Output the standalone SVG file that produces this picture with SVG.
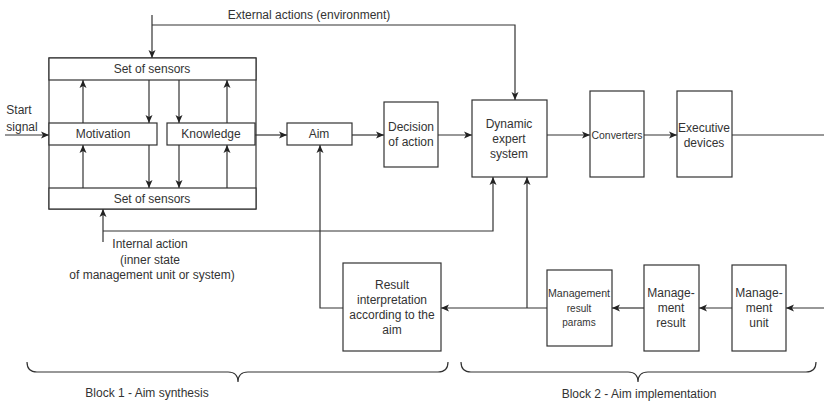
<svg xmlns="http://www.w3.org/2000/svg" width="824" height="403" viewBox="0 0 824 403">
  <style>
    .box { fill: #ffffff; stroke: #333333; stroke-width: 1.2; }
    .ln { fill: none; stroke: #333333; stroke-width: 1.2; }
    .arr { fill: none; stroke: #333333; stroke-width: 1.2; marker-end: url(#head); }
    text { font-family: "Liberation Sans", Arial, sans-serif; font-size: 12px; fill: #333333; text-anchor: middle; dominant-baseline: central; }
    .small { font-size: 10px; }
  </style>
  <defs>
    <marker id="head" markerUnits="userSpaceOnUse" markerWidth="10" markerHeight="10" refX="8" refY="4" orient="auto">
      <path d="M0,0.5 L8,4 L0,7.5 L2,4 Z" fill="#222222"/>
    </marker>
  </defs>

  <rect width="824" height="403" fill="#ffffff"/>

  <!-- connectors -->
  <g id="connectors">
    <!-- external actions -->
    <path class="arr" d="M152,15 V58"/>
    <path class="arr" d="M152,25 H515 V100"/>
    <!-- internal action -->
    <path class="arr" d="M103,242 V209"/>
    <path class="arr" d="M103,231 H493 V177"/>
    <!-- start signal -->
    <path class="arr" d="M5,135 H49"/>
    <!-- forward chain -->
    <path class="arr" d="M255,135 H287"/>
    <path class="arr" d="M352,135 H384"/>
    <path class="arr" d="M438,135 H472"/>
    <path class="arr" d="M547,135 H590"/>
    <path class="arr" d="M644,135 H677"/>
    <path class="ln" d="M732,135 H824"/>
    <!-- inside the sensors block -->
    <path class="arr" d="M83,123 V80"/>
    <path class="arr" d="M149,80 V123"/>
    <path class="arr" d="M179,80 V123"/>
    <path class="arr" d="M227,123 V80"/>
    <path class="arr" d="M83,188 V145"/>
    <path class="arr" d="M149,145 V188"/>
    <path class="arr" d="M179,145 V188"/>
    <path class="arr" d="M227,188 V145"/>
    <!-- feedback chain -->
    <path class="arr" d="M824,308 H786"/>
    <path class="arr" d="M732,308 H699"/>
    <path class="arr" d="M644,308 H612"/>
    <path class="arr" d="M547,308 H441"/>
    <path class="arr" d="M527,308 V177"/>
    <path class="arr" d="M343,308 H320 V145"/>
    <!-- braces -->
    <path class="ln" d="M27,362 Q27,372 37,372 H228 Q238,372 238,382 Q238,372 248,372 H438 Q448,372 448,362"/>
    <path class="ln" d="M461,362 Q461,372 471,372 H628 Q638,372 638,382 Q638,372 648,372 H806 Q816,372 816,362"/>
  </g>

  <!-- labels on connectors -->
  <text x="309" y="15">External actions (environment)</text>
  <text x="19" y="110">Start</text>
  <text x="22" y="127">signal</text>
  <text x="150" y="244">Internal action</text>
  <text x="150" y="260">(inner state</text>
  <text x="152" y="275">of management unit or system)</text>
  <text x="147" y="393">Block 1 - Aim synthesis</text>
  <text x="639" y="394">Block 2 - Aim implementation</text>

  <!-- sensors block -->
  <g id="sensors-block">
    <rect class="box" x="49" y="58" width="207" height="151" style="fill:none"/>
  </g>
  <g id="sensors-top">
    <rect class="box" x="49" y="58" width="207" height="22"/>
    <text x="152" y="69">Set of sensors</text>
  </g>
  <g id="sensors-bottom">
    <rect class="box" x="49" y="188" width="207" height="21"/>
    <text x="152" y="199">Set of sensors</text>
  </g>
  <g id="motivation">
    <rect class="box" x="49" y="123" width="108" height="22"/>
    <text x="103" y="134">Motivation</text>
  </g>
  <g id="knowledge">
    <rect class="box" x="167" y="123" width="88" height="22"/>
    <text x="211" y="134">Knowledge</text>
  </g>

  <g id="aim">
    <rect class="box" x="287" y="123" width="65" height="22"/>
    <text x="319" y="134">Aim</text>
  </g>
  <g id="decision">
    <rect class="box" x="384" y="102" width="54" height="65"/>
    <text x="411" y="127">Decision</text>
    <text x="411" y="142">of action</text>
  </g>
  <g id="dynamic">
    <rect class="box" x="472" y="100" width="75" height="77"/>
    <text x="509" y="124">Dynamic</text>
    <text x="509" y="139">expert</text>
    <text x="509" y="154">system</text>
  </g>
  <g id="converters">
    <rect class="box" x="590" y="91" width="54" height="86"/>
    <text class="small" x="617" y="135" textLength="51" lengthAdjust="spacingAndGlyphs">Converters</text>
  </g>
  <g id="executive">
    <rect class="box" x="677" y="91" width="55" height="86"/>
    <text x="704" y="128">Executive</text>
    <text x="704" y="143">devices</text>
  </g>

  <g id="result-interpretation">
    <rect class="box" x="343" y="263" width="98" height="88"/>
    <text x="392" y="285">Result</text>
    <text x="392" y="300">interpretation</text>
    <text x="392" y="315">according to the</text>
    <text x="392" y="330">aim</text>
  </g>
  <g id="management-result-params">
    <rect class="box" x="547" y="270" width="65" height="76"/>
    <text class="small" x="579" y="293" textLength="62" lengthAdjust="spacingAndGlyphs">Management</text>
    <text class="small" x="579" y="308">result</text>
    <text class="small" x="579" y="322">params</text>
  </g>
  <g id="management-result">
    <rect class="box" x="644" y="265" width="55" height="86"/>
    <text x="671" y="293">Manage-</text>
    <text x="671" y="308">ment</text>
    <text x="671" y="323">result</text>
  </g>
  <g id="management-unit">
    <rect class="box" x="732" y="265" width="54" height="86"/>
    <text x="759" y="293">Manage-</text>
    <text x="759" y="308">ment</text>
    <text x="759" y="323">unit</text>
  </g>
</svg>
